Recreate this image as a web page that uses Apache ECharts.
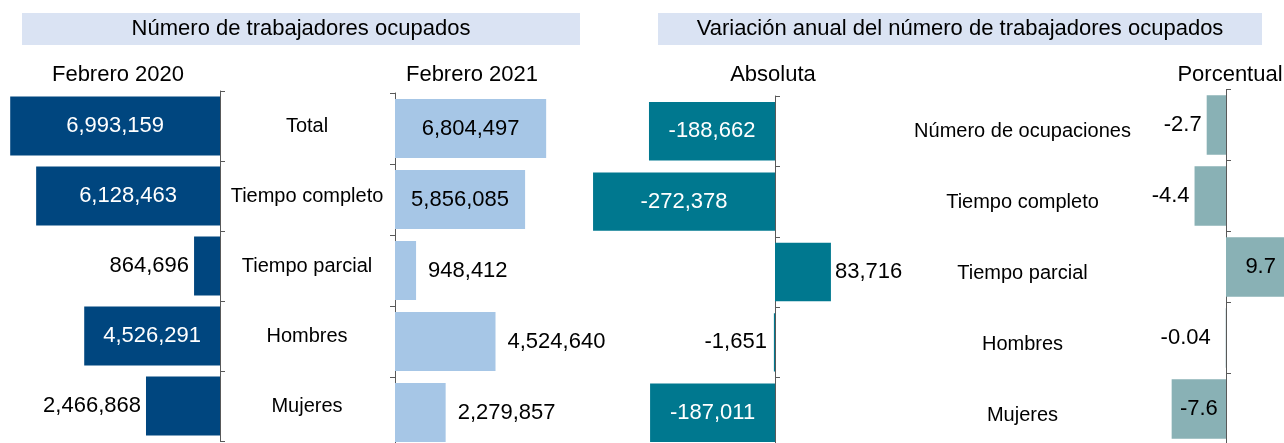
<!DOCTYPE html>
<html><head><meta charset="utf-8">
<script src="https://cdn.jsdelivr.net/npm/echarts@6/dist/echarts.min.js"></script>
<style>html,body{margin:0;padding:0;background:#fff}#c{width:1284px;height:443px}</style>
</head><body><div id="c"></div>
<script>
// ---- data ----
const categoriesLeft = ['Total', 'Tiempo completo', 'Tiempo parcial', 'Hombres', 'Mujeres'];
const categoriesRight = ['Número de ocupaciones', 'Tiempo completo', 'Tiempo parcial', 'Hombres', 'Mujeres'];
const feb2020 = [6993159, 6128463, 864696, 4526291, 2466868];
const feb2021 = [6804497, 5856085, 948412, 4524640, 2279857];
const varAbs = [-188662, -272378, 83716, -1651, -187011];
const varPct = [-2.7, -4.4, 9.7, -0.04, -7.6];
const headerTitles = ['Número de trabajadores ocupados', 'Variación anual del número de trabajadores ocupados'];
const panelTitles = ['Febrero 2020', 'Febrero 2021', 'Absoluta', 'Porcentual'];

// ---- style ----
const FONT = 'Liberation Sans, Arial, sans-serif';
const AXIS_COLOR = '#595959';
const C_DARK = '#00467f', C_LIGHT = '#a6c6e6', C_TEAL = '#00788f', C_SAGE = '#89b1b5';
const fmt = v => v.toLocaleString('en-US');

function labelOf(cfg) {
  return Object.assign({show: true, fontSize: 22, fontFamily: FONT}, cfg);
}

const d0 = feb2020.map(v => ({value: v, label: v > 4000000
  ? labelOf({position: 'inside', color: '#fff'})
  : labelOf({position: 'left', distance: 5, color: '#000'})}));
const d1 = feb2021.map(v => ({value: v, label: v > 5000000
  ? labelOf({position: 'inside', color: '#000'})
  : labelOf({position: 'right', distance: 12, color: '#000'})}));
const d2 = varAbs.map(v => ({value: v, label: Math.abs(v) > 100000
  ? labelOf({position: 'inside', color: '#fff'})
  : labelOf({position: v < 0 ? 'left' : 'right', distance: v < 0 ? 7 : 4, color: '#000'})}));
const d3 = varPct.map(v => ({value: v, label: Math.abs(v) > 5
  ? labelOf({position: 'inside', color: '#000'})
  : labelOf({position: v < 0 ? 'left' : 'right', distance: Math.abs(v) < 1 ? 15 : 5, color: '#000'})}));

const axisLine = {show: true, onZero: true, lineStyle: {color: AXIS_COLOR, width: 1}};
const axisTick = {show: true, length: 5, lineStyle: {color: AXIS_COLOR, width: 1}};

const option = {
  animation: false,
  backgroundColor: '#fff',
  textStyle: {fontFamily: FONT},
  grid: [
    {left: 10, top: 91, width: 210, height: 350, outerBoundsMode: 'none', containLabel: false},
    {left: 395, top: 93, width: 155.5, height: 355, outerBoundsMode: 'none', containLabel: false},
    {left: 574.6, top: 96, width: 400.8, height: 352, outerBoundsMode: 'none', containLabel: false},
    {left: 1154.5, top: 89.5, width: 143, height: 355, outerBoundsMode: 'none', containLabel: false}
  ],
  xAxis: [
    {gridIndex: 0, type: 'value', min: 0, max: 7000000, inverse: true, show: false},
    {gridIndex: 1, type: 'value', min: 0, max: 7000000, show: false},
    {gridIndex: 2, type: 'value', min: -300000, max: 300000, show: false},
    {gridIndex: 3, type: 'value', min: -10, max: 10, show: false}
  ],
  yAxis: [
    {gridIndex: 0, type: 'category', data: categoriesLeft, inverse: true, position: 'right',
     axisLine: Object.assign({}, axisLine, {onZero: false}), axisTick: axisTick,
     axisLabel: {interval: 0, margin: 87, align: 'center', fontSize: 20, color: '#000', fontFamily: FONT}},
    {gridIndex: 1, type: 'category', data: categoriesLeft, inverse: true, position: 'left',
     axisLine: Object.assign({}, axisLine, {onZero: false}), axisTick: axisTick, axisLabel: {show: false}},
    {gridIndex: 2, type: 'category', data: categoriesRight, inverse: true, position: 'left',
     axisLine: axisLine, axisTick: Object.assign({}, axisTick, {inside: true}), axisLabel: {show: false}},
    {gridIndex: 3, type: 'category', data: categoriesRight, inverse: true, position: 'left',
     axisLine: axisLine, axisTick: Object.assign({}, axisTick, {inside: true}),
     axisLabel: {interval: 0, margin: 132, align: 'center', color: '#000',
                 formatter: v => '{a|' + v + '}',
                 rich: {a: {fontSize: 20, fontFamily: FONT, color: '#000', padding: [12, 0, 0, 0]}}}}
  ],
  series: [
    {type: 'bar', xAxisIndex: 0, yAxisIndex: 0, data: d0, barCategoryGap: '16%',
     itemStyle: {color: C_DARK}, label: {formatter: p => fmt(p.value)}},
    {type: 'bar', xAxisIndex: 1, yAxisIndex: 1, data: d1, barCategoryGap: '17%',
     itemStyle: {color: C_LIGHT}, label: {formatter: p => fmt(p.value)}},
    {type: 'bar', xAxisIndex: 2, yAxisIndex: 2, data: d2, barCategoryGap: '17%',
     itemStyle: {color: C_TEAL}, label: {formatter: p => fmt(p.value)}},
    {type: 'bar', xAxisIndex: 3, yAxisIndex: 3, data: d3, barCategoryGap: '16%',
     itemStyle: {color: C_SAGE}, label: {formatter: p => String(p.value)}}
  ],
  graphic: [
    {type: 'rect', shape: {x: 22, y: 13, width: 558, height: 32}, style: {fill: '#dae3f3'}, z: 0},
    {type: 'rect', shape: {x: 658, y: 13, width: 604, height: 32}, style: {fill: '#dae3f3'}, z: 0},
    {type: 'text', x: 301, y: 29, style: {text: headerTitles[0], fontSize: 22, fontFamily: FONT, fill: '#000', align: 'center', verticalAlign: 'middle'}, z: 1},
    {type: 'text', x: 960, y: 29, style: {text: headerTitles[1], fontSize: 22, fontFamily: FONT, fill: '#000', align: 'center', verticalAlign: 'middle'}, z: 1},
    {type: 'text', x: 118, y: 75, style: {text: panelTitles[0], fontSize: 22, fontFamily: FONT, fill: '#000', align: 'center', verticalAlign: 'middle'}},
    {type: 'text', x: 472, y: 75, style: {text: panelTitles[1], fontSize: 22, fontFamily: FONT, fill: '#000', align: 'center', verticalAlign: 'middle'}},
    {type: 'text', x: 773, y: 75, style: {text: panelTitles[2], fontSize: 22, fontFamily: FONT, fill: '#000', align: 'center', verticalAlign: 'middle'}},
    {type: 'text', x: 1230, y: 75, style: {text: panelTitles[3], fontSize: 22, fontFamily: FONT, fill: '#000', align: 'center', verticalAlign: 'middle'}}
  ]
};

const chart = echarts.init(document.getElementById('c'), null, {renderer: 'canvas'});
chart.setOption(option);
</script>
</body></html>
